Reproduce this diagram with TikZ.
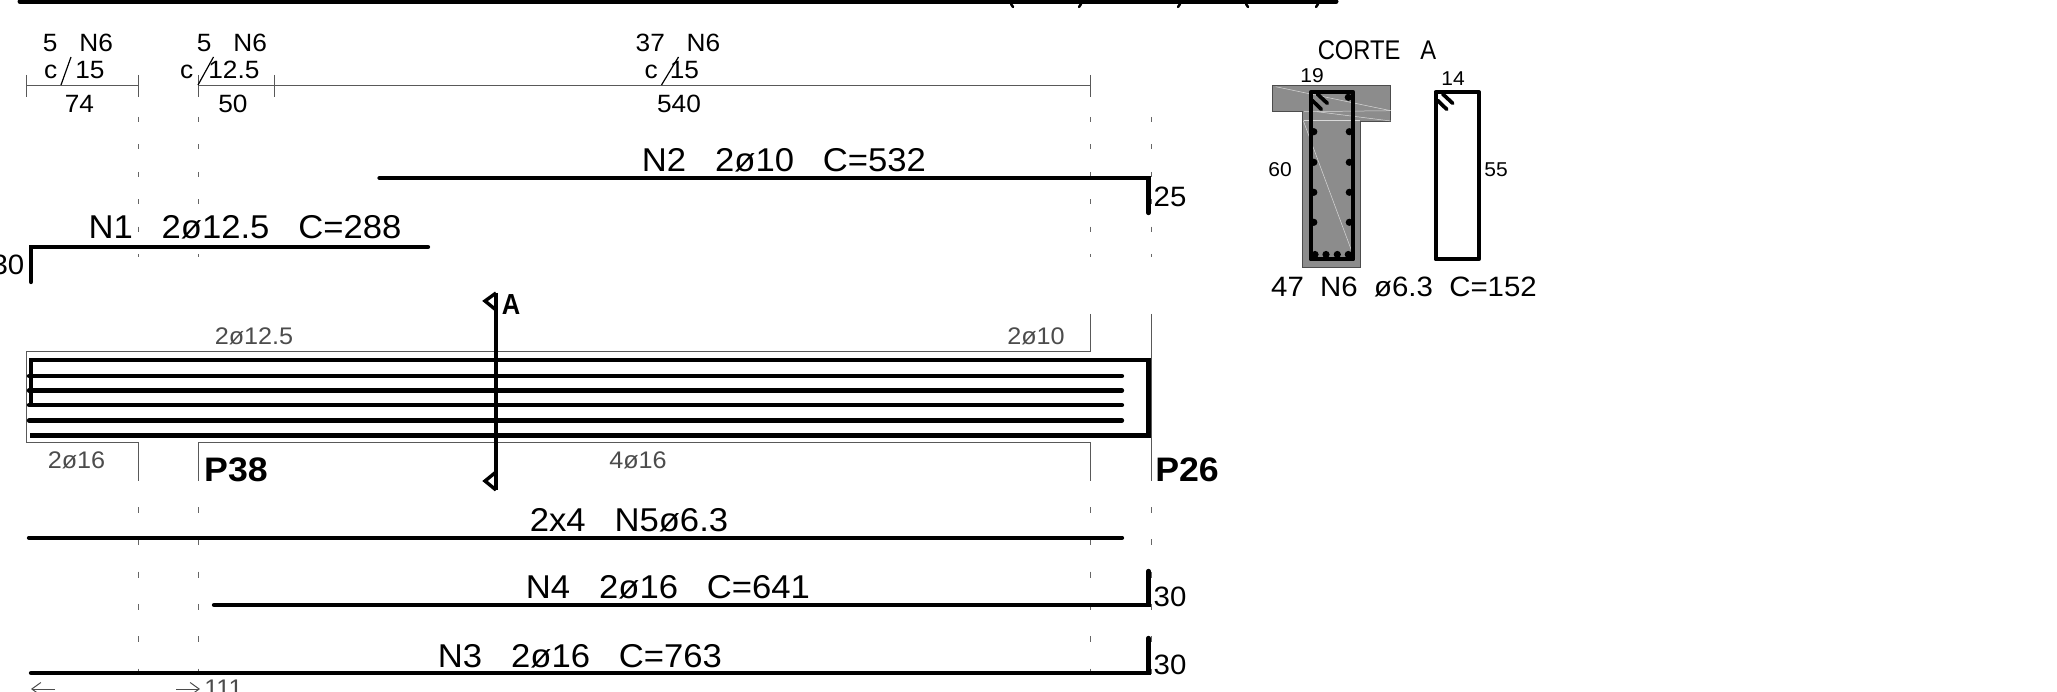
\documentclass[tikz,border=0pt]{standalone}
\usepackage{fontspec}
\usetikzlibrary{arrows.meta}
\setmainfont[FakeStretch=1.05]{Liberation Sans}
\newfontfamily\capsfont[FakeStretch=0.88]{Liberation Sans}
\tikzset{
	rebar/.style={line width=1.5mm, line cap=round, line join=miter},
	guide/.style={line width=1pt, color=black!65},
	spacing/.style={line width=1.2pt},
	gap/.style={line width=1pt, color=black!60, dash pattern=on 5pt off 22.4pt},
	gaplow/.style={line width=1pt, color=black!60, dash pattern=on 6pt off 26.3pt},
	barlabel/.style={anchor=base, inner sep=0pt, font=\fontsize{33}{33}\selectfont},
	dimlabel/.style={anchor=base, inner sep=0pt, font=\fontsize{25}{25}\selectfont},
	hooklabel/.style={anchor=base, inner sep=0pt, font=\fontsize{28}{28}\selectfont},
	thinlabel/.style={anchor=base, inner sep=0pt, color=black!70, font=\fontsize{24}{24}\selectfont},
	pierlabel/.style={anchor=base, inner sep=0pt, font=\fontsize{34}{34}\selectfont\bfseries},
	sizelabel/.style={anchor=base, inner sep=0pt, font=\fontsize{20}{20}\selectfont},
	crack/.style={line width=0.5pt, color=white!85!black},
}
\def\barhook(#1,#2){\draw[line width=1.3mm, line cap=round] (#1+7, #2+2) -- (#1+17, #2+11.3); \draw[line width=1.3mm, line cap=round] (#1+2, #2+8.5) -- (#1+11, #2+17.3);}

\begin{document}
\begin{tikzpicture}[x=1pt, y=-1pt]
		%%%%% START %%%%%
		\clip (0, 0) rectangle (2057, 692);
		\useasboundingbox (0, 0) rectangle (2057, 692);

		% bar cut off at the top
		\draw[line width=5pt, line cap=round] (20, 1.5) -- (1336, 1.5);
		\foreach \tickx/\tickdir in {1011/-1, 1081/1, 1180/1, 1246/-1, 1318/1}
			\draw[line width=2.5pt, line cap=round] (\tickx, 4) -- (\tickx+\tickdir*-2, 7);

		% stirrup spacing
		\draw[guide] (26, 86) -- (138.4, 86);
		\draw[guide] (198.4, 86) -- (1090.8, 86);
		\foreach \tickx in {26, 138.4, 198.4, 274.3, 1090.8}
			\draw[guide] (\tickx, 75) -- (\tickx, 97);

		\node[dimlabel] (n6a) at (78, 52) {5~~~N6};
		\node[dimlabel, anchor=base west] (spa) at (44, 79) {c\hspace{18pt}15};
		\node[dimlabel] (lena) at (79.5, 113) {74};
		\node[dimlabel] (n6b) at (232, 52) {5~~~N6};
		\node[dimlabel, anchor=base west] (spb) at (180, 79) {c\hspace{15pt}12.5};
		\node[dimlabel] (lenb) at (233, 113) {50};
		\node[dimlabel] (n6c) at (678, 52) {37~~~N6};
		\node[dimlabel, anchor=base west] (spc) at (644.5, 79) {c\hspace{12pt}15};
		\node[dimlabel] (lenc) at (679, 113) {540};
		\draw[spacing] (61, 85) -- (71, 57);
		\draw[spacing] (198, 85) -- (213.5, 57);
		\draw[spacing] (661.5, 85) -- (678.5, 57);

		% pier lines
		\foreach \gapx in {138.4, 198.4, 1090.8, 1151.7} {
			\draw[gap] (\gapx, 117) -- (\gapx, 257);
			\draw[gaplow] (\gapx, 507) -- (\gapx, 674);
		}

		% top bars
		\draw[rebar] (379.5, 178) -- (1148.5, 178) -- (1148.5, 213);
		\node[barlabel] (ntwo) at (784, 172) {N2~~~2ø10~~~C=532};
		\node[hooklabel] (hooktwo) at (1170, 207) {25};
		\draw[rebar] (31, 282) -- (31, 247) -- (428, 247);
		\node[barlabel] (none) at (245, 239) {N1~~~2ø12.5~~~C=288};
		\node[hooklabel, anchor=base east] (hookone) at (24.5, 275) {30};

		% beam outline
		\draw[guide] (1090.8, 314) -- (1090.8, 352) -- (26, 352) -- (26, 443) -- (138.4, 443) -- (138.4, 481);
		\draw[guide] (198.4, 481) -- (198.4, 443) -- (1090.8, 443) -- (1090.8, 481);
		\draw[guide] (1151.7, 314) -- (1151.7, 481);

		% bars in the beam
		\draw[rebar, line cap=butt] (31, 405) -- (31, 360) -- (1148.5, 360) -- (1148.5, 435.5) -- (30, 435.5);
		\draw[rebar] (29, 376) -- (1122, 376);
		\draw[rebar] (29, 390.5) -- (1122, 390.5);
		\draw[rebar] (29, 405) -- (1122, 405);
		\draw[rebar] (29, 420.5) -- (1122, 420.5);

		\node[thinlabel] (topleft) at (254, 345) {2ø12.5};
		\node[thinlabel] (topright) at (1036, 345) {2ø10};
		\node[thinlabel] (botleft) at (76.5, 468) {2ø16};
		\node[thinlabel] (botmid) at (638, 468) {4ø16};
		\node[pierlabel] (pleft) at (236, 482) {P38};
		\node[pierlabel] (pright) at (1187, 482) {P26};

		% section mark
		\draw[line width=1.3mm] (496, 293) -- (496, 490);
		\draw[line width=1.2mm] (496, 293) -- (485, 301) -- (496, 310);
		\draw[line width=1.2mm] (496, 472) -- (485, 481) -- (496, 490);
		\node[anchor=base, inner sep=0pt, font=\capsfont\fontsize{29}{29}\selectfont\bfseries] (cut) at (511, 315) {A};

		% bottom bars
		\draw[rebar] (29, 537.7) -- (1122, 537.7);
		\node[barlabel] (nfive) at (629, 531) {2x4~~~N5ø6.3};
		\draw[rebar] (214, 605) -- (1148.5, 605) -- (1148.5, 571);
		\node[barlabel] (nfour) at (668, 598) {N4~~~2ø16~~~C=641};
		\node[hooklabel] (hookfour) at (1170, 606.7) {30};
		\draw[rebar] (31, 673) -- (1148.5, 673) -- (1148.5, 638);
		\node[barlabel] (nthree) at (580, 667) {N3~~~2ø16~~~C=763};
		\node[hooklabel] (hookthree) at (1170, 674) {30};

		\draw[line width=1pt, color=black!70, -{Straight Barb[length=9pt, width=13pt]}] (55, 689) -- (31, 689);
		\draw[line width=1pt, color=black!70, -{Straight Barb[length=9pt, width=13pt]}] (176, 689) -- (200, 689);
		\node[thinlabel] (lap) at (223.5, 696) {111};

		% section of the beam
		\node[anchor=base, inner sep=0pt, font=\capsfont\fontsize{27}{27}\selectfont] (section) at (1377, 59.3) {CORTE~~~A};
		\draw[line width=1pt, color=black!70, fill=black!45] (1272.3, 85.7) -- (1390.7, 85.7) -- (1390.7, 121.7) -- (1360.7, 121.7) -- (1360.7, 267.3) -- (1302.7, 267.3) -- (1302.7, 111.7) -- (1272.3, 111.7) -- cycle;
		\draw[crack] (1275.7, 86.7) -- (1390.7, 110.7);
		\draw[crack] (1304, 111.7) -- (1390.7, 110.7);
		\draw[crack] (1317, 111.7) -- (1390.7, 121);
		\draw[crack] (1304, 120.7) -- (1360, 120.7);
		\draw[crack] (1303.3, 120.7) -- (1355, 260);

		\draw[line width=1.5mm, line join=round] (1310.7, 92.3) rectangle (1353.3, 259.3);
		\barhook(1310.3,92)
		\foreach \bary in {131.7, 162.3, 192.3, 222.3} {
			\fill (1313.8, \bary) circle (3.6);
			\fill (1349.3, \bary) circle (3.6);
		}
		\fill (1348.3, 97.3) circle (3.6);
		\foreach \barx in {1315, 1326, 1337.3, 1348.3}
			\fill (\barx, 254.5) circle (3.6);

		\node[sizelabel] (flange) at (1312, 83) {19};
		\node[sizelabel] (height) at (1280, 176.7) {60};

		% stirrup N6
		\draw[line width=1.5mm, line join=round] (1435.7, 92) rectangle (1478.7, 259.3);
		\barhook(1435.7,92)
		\node[sizelabel] (width) at (1453, 86) {14};
		\node[sizelabel] (side) at (1496, 176.7) {55};
		\node[hooklabel] (stirrup) at (1404, 297) {47~~N6~~ø6.3~~C=152};
		%%%%% END %%%%%
	\end{tikzpicture}
\end{document}
